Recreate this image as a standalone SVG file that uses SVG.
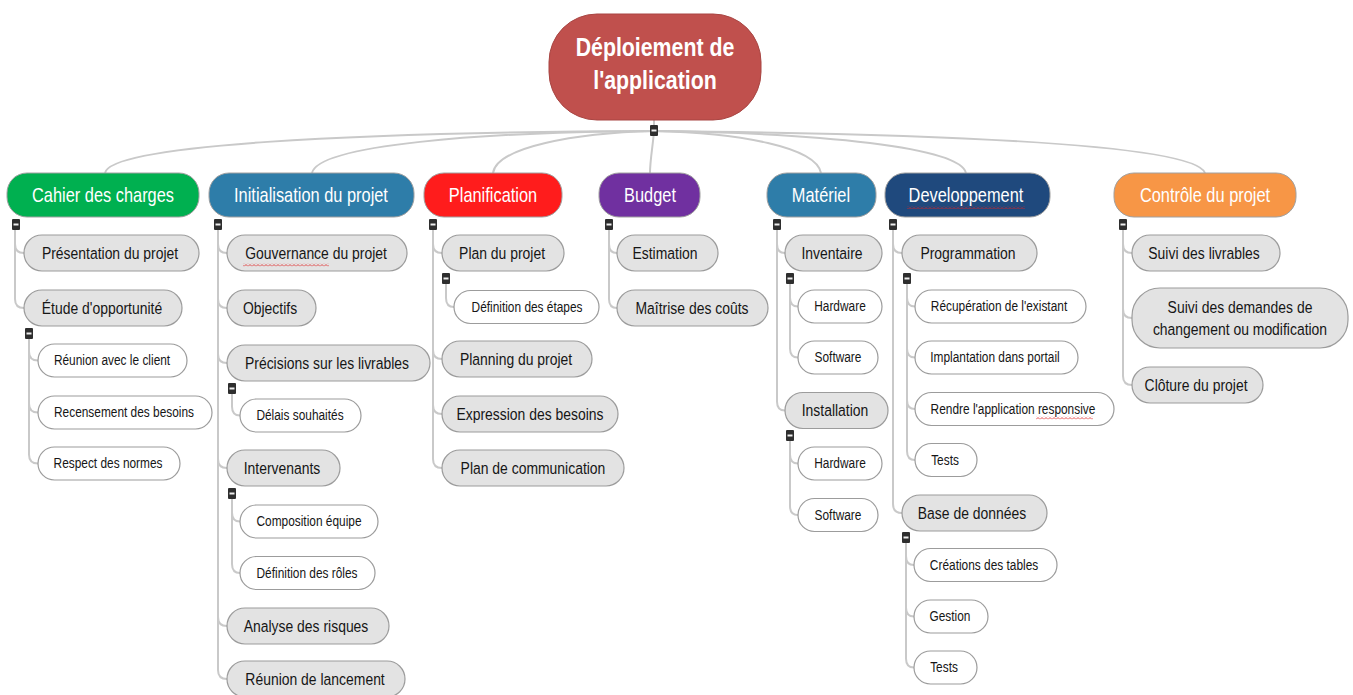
<svg xmlns="http://www.w3.org/2000/svg" width="1353" height="695" viewBox="0 0 1353 695">
<style>
.c{fill:none;stroke:#c9c9c9;stroke-width:2}
.l1{stroke:#a0a0a0;stroke-width:1}
.l2{fill:#e3e3e3;stroke:#9c9c9c;stroke-width:1.2}
.l3{fill:#fff;stroke:#9c9c9c;stroke-width:1.2}
text{font-family:"Liberation Sans",Arial,sans-serif;text-anchor:middle;transform:scaleX(.82);transform-box:fill-box;transform-origin:center}
.t0{font-size:26px;font-weight:bold;fill:#fff}
.t1{font-size:20px;fill:#fff}
.t2{font-size:17px;fill:#161616}
.t3{font-size:14.5px;fill:#161616}
</style>
<defs>
<g id="mk"><rect x="-4" y="0" width="8" height="11" rx="1" fill="#2e2e2e"/><rect x="-2.5" y="4.5" width="5" height="2" fill="#eee"/></g>
<pattern id="sq" width="4" height="3" patternUnits="userSpaceOnUse"><polyline points="0,2.5 2,0.5 4,2.5" fill="none" stroke="#e02020" stroke-width="0.8"/></pattern>
</defs>
<rect width="1353" height="695" fill="#fff"/>

<g id="connectors">
<path class="c" d="M654,131 C350,132 110,145 105,173"/>
<path class="c" d="M654,131 C480,132 318,145 312,173"/>
<path class="c" d="M654,131 C575,133 497,147 493,173"/>
<path class="c" d="M654,131 C653,145 650,160 650,173"/>
<path class="c" d="M654,131 C740,133 816,147 821,173"/>
<path class="c" d="M654,131 C820,133 960,147 966,173"/>
<path class="c" d="M654,131 C960,134 1195,145 1205,173"/>
<path class="c" d="M654,120 V126"/>
<!-- Cahier -->
<path class="c" d="M15,230 V244 Q15,253 24,253"/>
<path class="c" d="M15,230 V299 Q15,308 24,308"/>
<path class="c" d="M29,339 V351.5 Q29,360.5 38,360.5"/>
<path class="c" d="M29,339 V403.5 Q29,412.5 38,412.5"/>
<path class="c" d="M29,339 V454.5 Q29,463.5 38,463.5"/>
<!-- Init -->
<path class="c" d="M218,230 V244 Q218,253 227,253"/>
<path class="c" d="M218,230 V299 Q218,308 227,308"/>
<path class="c" d="M218,230 V354 Q218,363 227,363"/>
<path class="c" d="M218,230 V459 Q218,468 227,468"/>
<path class="c" d="M218,230 V617 Q218,626 227,626"/>
<path class="c" d="M218,230 V670 Q218,679 227,679"/>
<path class="c" d="M232,394 V406.5 Q232,415.5 240,415.5"/>
<path class="c" d="M232,499 V512.5 Q232,521.5 240,521.5"/>
<path class="c" d="M232,499 V564 Q232,573 240,573"/>
<!-- Planif -->
<path class="c" d="M433,230 V244 Q433,253 442,253"/>
<path class="c" d="M433,230 V350 Q433,359 442,359"/>
<path class="c" d="M433,230 V405 Q433,414 442,414"/>
<path class="c" d="M433,230 V459 Q433,468 442,468"/>
<path class="c" d="M446,284 V298 Q446,307 454,307"/>
<!-- Budget -->
<path class="c" d="M609,230 V244 Q609,253 617,253"/>
<path class="c" d="M609,230 V299 Q609,308 617,308"/>
<!-- Materiel -->
<path class="c" d="M777,230 V244 Q777,253 785,253"/>
<path class="c" d="M777,230 V401.5 Q777,410.5 785,410.5"/>
<path class="c" d="M790,283 V297.5 Q790,306.5 798,306.5"/>
<path class="c" d="M790,283 V348.5 Q790,357.5 798,357.5"/>
<path class="c" d="M790,441 V454.5 Q790,463.5 798,463.5"/>
<path class="c" d="M790,441 V506 Q790,515 798,515"/>
<!-- Dev -->
<path class="c" d="M893,230 V244 Q893,253 902,253"/>
<path class="c" d="M893,230 V504 Q893,513 902,513"/>
<path class="c" d="M907,283 V297.5 Q907,306.5 915,306.5"/>
<path class="c" d="M907,283 V348.5 Q907,357.5 915,357.5"/>
<path class="c" d="M907,283 V400 Q907,409 915,409"/>
<path class="c" d="M907,283 V451 Q907,460 915,460"/>
<path class="c" d="M906,543 V556 Q906,565 914,565"/>
<path class="c" d="M906,543 V607.5 Q906,616.5 914,616.5"/>
<path class="c" d="M906,543 V658.5 Q906,667.5 914,667.5"/>
<!-- Controle -->
<path class="c" d="M1123,230 V244 Q1123,253 1132,253"/>
<path class="c" d="M1123,230 V309 Q1123,318 1132,318"/>
<path class="c" d="M1123,230 V376 Q1123,385 1132,385"/>
</g>

<g id="root">
<rect x="549" y="14" width="212" height="106" rx="48" fill="#c0504d" stroke="#a84542" stroke-width="1"/>
<text class="t0" x="655" y="56">Déploiement de</text>
<text class="t0" x="655" y="89">l'application</text>
<use href="#mk" x="654" y="125"/>
</g>

<g id="cahier">
<rect class="l1" x="7" y="173" width="192" height="44" rx="20" fill="#00b050"/>
<text class="t1" x="103" y="202">Cahier des charges</text>
<use href="#mk" x="16" y="219"/>
</g>
<g id="presentation"><rect class="l2" x="24" y="235" width="175" height="36" rx="18"/><text class="t2" x="110" y="259">Présentation du projet</text></g>
<g id="etude"><rect class="l2" x="24" y="290" width="158" height="36" rx="18"/><text class="t2" x="102" y="314">Étude d'opportunité</text><use href="#mk" x="29" y="328"/></g>
<g id="reunion-client"><rect class="l3" x="38" y="344" width="149" height="33" rx="16.5"/><text class="t3" x="112" y="365.5">Réunion avec le client</text></g>
<g id="recensement"><rect class="l3" x="38" y="396" width="174" height="33" rx="16.5"/><text class="t3" x="124" y="417.5">Recensement des besoins</text></g>
<g id="respect"><rect class="l3" x="38" y="447" width="142" height="33" rx="16.5"/><text class="t3" x="108" y="468.5">Respect des normes</text></g>

<g id="init">
<rect class="l1" x="209" y="173" width="205" height="44" rx="20" fill="#2e7da9"/>
<text class="t1" x="311" y="202">Initialisation du projet</text>
<use href="#mk" x="218" y="219"/>
</g>
<g id="gouvernance"><rect class="l2" x="227" y="235" width="180" height="36" rx="18"/><text class="t2" x="316" y="259">Gouvernance du projet</text><rect x="243" y="263.5" width="86" height="3" fill="url(#sq)"/></g>
<g id="objectifs"><rect class="l2" x="227" y="290" width="89" height="36" rx="18"/><text class="t2" x="270" y="314">Objectifs</text></g>
<g id="precisions"><rect class="l2" x="227" y="345" width="203" height="36" rx="18"/><text class="t2" x="327" y="369">Précisions sur les livrables</text><use href="#mk" x="232" y="383"/></g>
<g id="delais"><rect class="l3" x="240" y="399" width="121" height="33" rx="16.5"/><text class="t3" x="300" y="420.5">Délais souhaités</text></g>
<g id="intervenants"><rect class="l2" x="227" y="450" width="113" height="36" rx="18"/><text class="t2" x="282" y="474">Intervenants</text><use href="#mk" x="232" y="488"/></g>
<g id="composition"><rect class="l3" x="240" y="505" width="138" height="33" rx="16.5"/><text class="t3" x="309" y="526.5">Composition équipe</text></g>
<g id="def-roles"><rect class="l3" x="240" y="556.5" width="135" height="33" rx="16.5"/><text class="t3" x="307" y="578">Définition des rôles</text></g>
<g id="analyse"><rect class="l2" x="227" y="608" width="162" height="36" rx="18"/><text class="t2" x="306" y="632">Analyse des risques</text></g>
<g id="lancement"><rect class="l2" x="227" y="661" width="178" height="36" rx="18"/><text class="t2" x="315" y="685">Réunion de lancement</text></g>

<g id="planif">
<rect class="l1" x="424" y="173" width="138" height="44" rx="20" fill="#ff1c1c"/>
<text class="t1" x="493" y="202">Planification</text>
<use href="#mk" x="433" y="219"/>
</g>
<g id="plan-projet"><rect class="l2" x="442" y="235" width="122" height="36" rx="18"/><text class="t2" x="502" y="259">Plan du projet</text><use href="#mk" x="446" y="273"/></g>
<g id="def-etapes"><rect class="l3" x="454" y="290.5" width="145" height="33" rx="16.5"/><text class="t3" x="527" y="312">Définition des étapes</text></g>
<g id="planning"><rect class="l2" x="442" y="341" width="150" height="36" rx="18"/><text class="t2" x="516" y="365">Planning du projet</text></g>
<g id="expression"><rect class="l2" x="442" y="396" width="176" height="36" rx="18"/><text class="t2" x="530" y="420">Expression des besoins</text></g>
<g id="plan-comm"><rect class="l2" x="442" y="450" width="182" height="36" rx="18"/><text class="t2" x="533" y="474">Plan de communication</text></g>

<g id="budget">
<rect class="l1" x="599" y="173" width="101" height="44" rx="20" fill="#7030a0"/>
<text class="t1" x="650" y="202">Budget</text>
<use href="#mk" x="609" y="219"/>
</g>
<g id="estimation"><rect class="l2" x="617" y="235" width="101" height="36" rx="18"/><text class="t2" x="665" y="259">Estimation</text></g>
<g id="maitrise"><rect class="l2" x="617" y="290" width="151" height="36" rx="18"/><text class="t2" x="692" y="314">Maîtrise des coûts</text></g>

<g id="materiel">
<rect class="l1" x="767" y="173" width="109" height="44" rx="20" fill="#2e7da9"/>
<text class="t1" x="821" y="202">Matériel</text>
<use href="#mk" x="777" y="219"/>
</g>
<g id="inventaire"><rect class="l2" x="785" y="235" width="97" height="36" rx="18"/><text class="t2" x="832" y="259">Inventaire</text><use href="#mk" x="790" y="273"/></g>
<g id="hardware1"><rect class="l3" x="798" y="290" width="84" height="33" rx="16.5"/><text class="t3" x="840" y="311.5">Hardware</text></g>
<g id="software1"><rect class="l3" x="798" y="341" width="80" height="33" rx="16.5"/><text class="t3" x="838" y="362.5">Software</text></g>
<g id="installation"><rect class="l2" x="785" y="392.5" width="103" height="36" rx="18"/><text class="t2" x="835" y="416.5">Installation</text><use href="#mk" x="790" y="430"/></g>
<g id="hardware2"><rect class="l3" x="798" y="447" width="84" height="33" rx="16.5"/><text class="t3" x="840" y="468.5">Hardware</text></g>
<g id="software2"><rect class="l3" x="798" y="498.5" width="80" height="33" rx="16.5"/><text class="t3" x="838" y="520">Software</text></g>

<g id="dev">
<rect class="l1" x="885" y="173" width="165" height="44" rx="20" fill="#1f497d"/>
<text class="t1" x="966" y="202">Developpement</text>
<rect x="907" y="206" width="118" height="3" fill="url(#sq)"/>
<use href="#mk" x="893" y="219"/>
</g>
<g id="programmation"><rect class="l2" x="902" y="235" width="135" height="36" rx="18"/><text class="t2" x="968" y="259">Programmation</text><use href="#mk" x="907" y="273"/></g>
<g id="recuperation"><rect class="l3" x="915" y="290" width="171" height="33" rx="16.5"/><text class="t3" x="999" y="311.5">Récupération de l'existant</text></g>
<g id="implantation"><rect class="l3" x="915" y="341" width="163" height="33" rx="16.5"/><text class="t3" x="995" y="362.5">Implantation dans portail</text></g>
<g id="responsive"><rect class="l3" x="915" y="392.5" width="199" height="33" rx="16.5"/><text class="t3" x="1013" y="414">Rendre l'application responsive</text><rect x="1036" y="416.5" width="57" height="3" fill="url(#sq)"/></g>
<g id="tests1"><rect class="l3" x="915" y="443.5" width="62" height="33" rx="16.5"/><text class="t3" x="945" y="465">Tests</text></g>
<g id="base"><rect class="l2" x="902" y="495" width="145" height="36" rx="18"/><text class="t2" x="972" y="519">Base de données</text><use href="#mk" x="906" y="532"/></g>
<g id="creations"><rect class="l3" x="914" y="548.5" width="143" height="33" rx="16.5"/><text class="t3" x="984" y="570">Créations des tables</text></g>
<g id="gestion"><rect class="l3" x="914" y="600" width="74" height="33" rx="16.5"/><text class="t3" x="950" y="621.5">Gestion</text></g>
<g id="tests2"><rect class="l3" x="914" y="651" width="63" height="33" rx="16.5"/><text class="t3" x="944" y="672.5">Tests</text></g>

<g id="controle">
<rect class="l1" x="1114" y="173" width="182" height="44" rx="20" fill="#f79646"/>
<text class="t1" x="1205" y="202">Contrôle du projet</text>
<use href="#mk" x="1123" y="219"/>
</g>
<g id="suivi-livrables"><rect class="l2" x="1132" y="235" width="148" height="36" rx="18"/><text class="t2" x="1204" y="259">Suivi des livrables</text></g>
<g id="suivi-demandes"><rect class="l2" x="1132" y="288" width="216" height="60" rx="28"/><text class="t2" x="1240" y="313">Suivi des demandes de</text><text class="t2" x="1240" y="335">changement ou modification</text></g>
<g id="cloture"><rect class="l2" x="1132" y="367" width="131" height="36" rx="18"/><text class="t2" x="1196" y="391">Clôture du projet</text></g>
</svg>
